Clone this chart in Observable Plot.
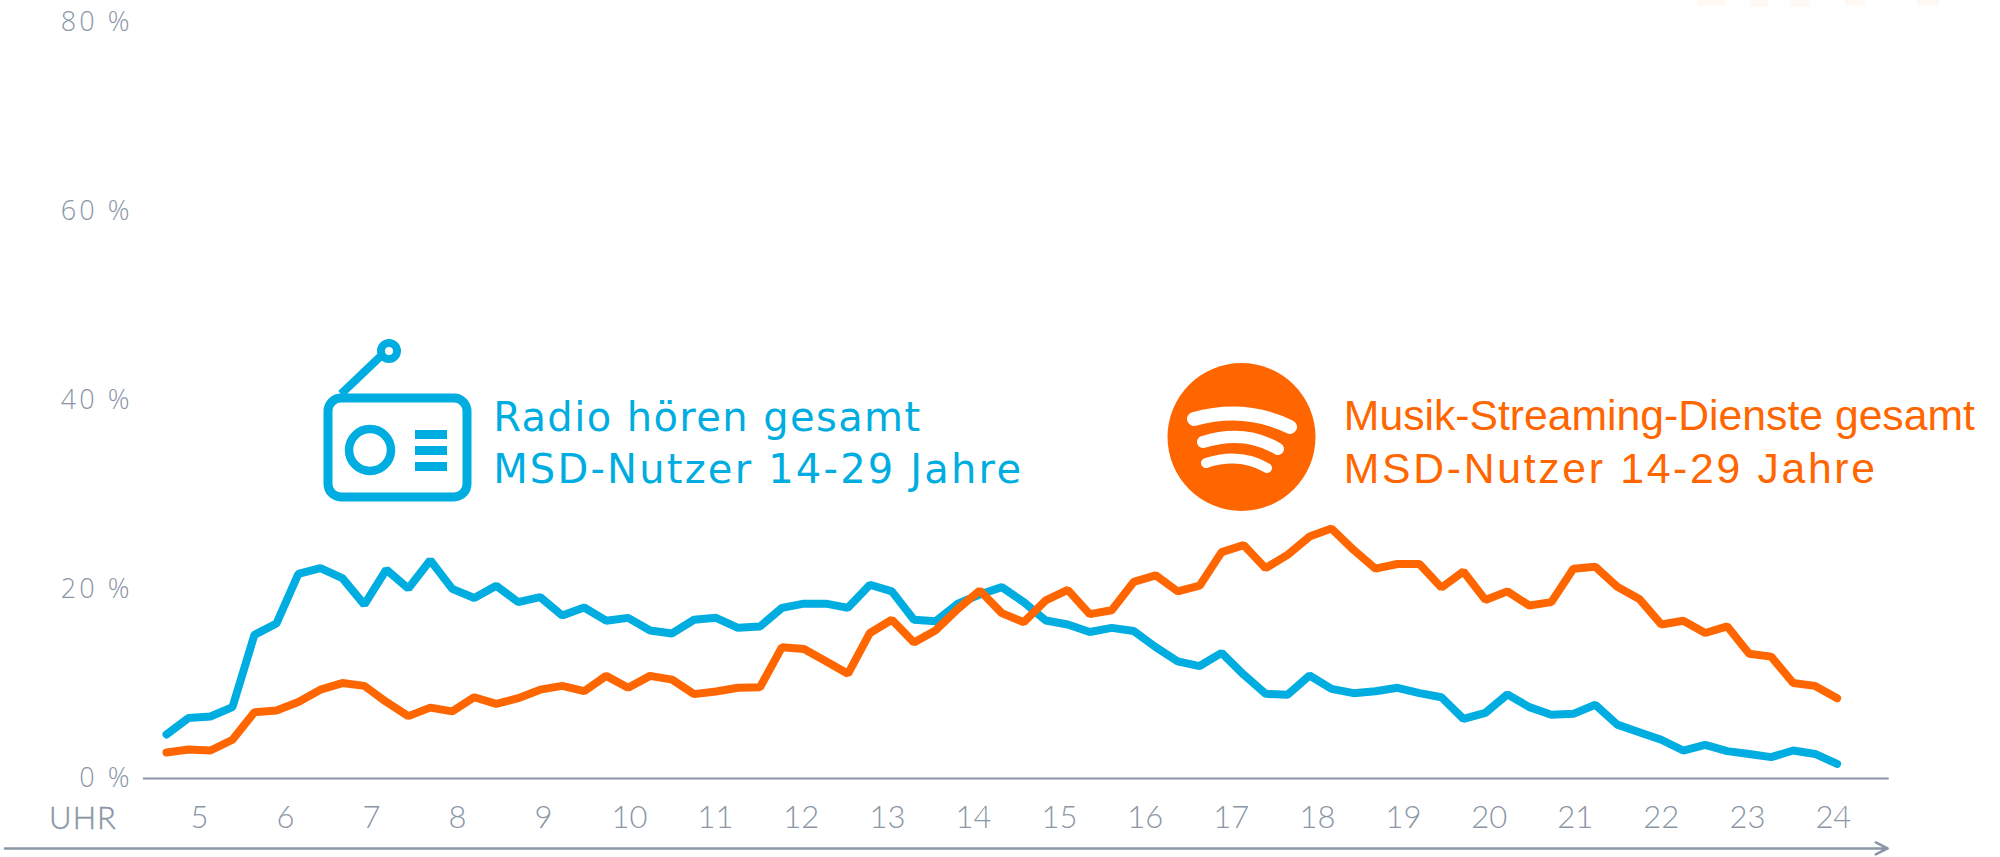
<!DOCTYPE html>
<html><head><meta charset="utf-8">
<script src="https://cdn.jsdelivr.net/npm/d3@7"></script>
<script src="https://cdn.jsdelivr.net/npm/@observablehq/plot@0.6"></script>
<style>
html,body{margin:0;padding:0;background:#fff;width:2000px;height:857px;overflow:hidden}
#wrap{position:relative;width:2000px;height:857px}
#wrap svg{position:absolute;left:0;top:0}
</style></head><body><div id="wrap"></div>
<script>
const radio = [4.66,6.4,6.56,7.55,15.2,16.4,21.66,22.26,21.2,18.4,22.1,20.1,23.1,20.07,19.1,20.4,18.66,19.2,17.25,18.1,16.7,17.0,15.66,15.35,16.8,17.0,15.94,16.08,18.06,18.5,18.5,18.06,20.5,19.8,16.8,16.65,18.5,19.47,20.25,18.66,16.72,16.3,15.5,15.94,15.6,13.9,12.4,11.9,13.3,11.0,8.96,8.85,10.9,9.49,9.03,9.24,9.6,9.03,8.6,6.3,6.95,8.9,7.55,6.74,6.84,7.8,5.7,4.9,4.1,2.96,3.56,2.9,2.6,2.26,2.96,2.6,1.55];
const streaming = [2.75,3.07,2.96,4.1,7.0,7.2,8.1,9.4,10.1,9.8,8.1,6.6,7.5,7.1,8.6,7.9,8.5,9.4,9.8,9.24,10.86,9.6,10.86,10.46,8.93,9.2,9.6,9.66,13.9,13.7,12.4,11.08,15.4,16.8,14.4,15.7,17.95,19.9,17.5,16.54,18.84,19.96,17.4,17.8,20.8,21.5,19.8,20.4,23.95,24.7,22.26,23.67,25.6,26.45,24.2,22.2,22.7,22.7,20.2,21.9,18.9,19.8,18.3,18.66,22.2,22.4,20.3,19.0,16.3,16.7,15.4,16.1,13.2,12.9,10.1,9.8,8.5];
const hourLabels = ["5","6","7","8","9","10","11","12","13","14","15","16","17","18","19","20","21","22","23","24"];
const hourSlots = [1.5,5.41,9.32,13.24,17.15,21.06,24.97,28.88,32.8,36.71,40.62,44.53,48.44,52.36,56.27,60.18,64.09,68,71.92,75.83];
const yTicks = [0,20,40,60,80];
const BLUE="#00ADE0", ORANGE="#FF6600", GREY="#8A96A5";

const toRows = a => a.map((v,i)=>({slot:i,value:v}));
const lato = {fontFamily:"Lato, sans-serif", fontWeight:300};

const chart = Plot.plot({
  width:2000, height:857,
  marginLeft:143, marginRight:113, marginTop:22, marginBottom:79,
  style:{background:"transparent",overflow:"visible"},
  x:{domain:[0,76],range:[166,1836.6],axis:null},
  y:{domain:[0,80],range:[778,22],axis:null},
  marks:[
    Plot.axisY({ticks:yTicks,tickSize:0,tickPadding:11,tickFormat:d=>d+" %",fontSize:27,fill:GREY,label:null,fontFamily:"Open Sans",fontWeight:300,stroke:GREY,strokeWidth:0.5}),
    Plot.axisX({ticks:hourSlots,tickSize:0,tickPadding:27,tickFormat:(d,i)=>hourLabels[i],fontSize:31,fill:GREY,label:null,...lato,stroke:GREY,strokeWidth:0.4}),
    Plot.ruleY([0],{x1:[-1.05],x2:[78.37],stroke:GREY,strokeWidth:2}),
    Plot.arrow([0],{x1:()=>-7.35,x2:()=>78.3,y1:()=>-7.4,y2:()=>-7.4,stroke:GREY,strokeWidth:2.5,headLength:8,headAngle:53}),
    Plot.text(["UHR"],{x:()=>-3.8,y:()=>-4.3,text:d=>d,fontSize:31,fill:GREY,...lato,stroke:GREY,strokeWidth:0.4}),
    Plot.line(toRows(radio),{x:"slot",y:"value",stroke:BLUE,strokeWidth:8,strokeLinecap:"round",strokeLinejoin:"miter"}),
    Plot.line(toRows(streaming),{x:"slot",y:"value",stroke:ORANGE,strokeWidth:8,strokeLinecap:"round",strokeLinejoin:"miter"}),
    Plot.text(["Radio hören gesamt"],{x:()=>14.86,y:()=>36.75,text:d=>d,textAnchor:"start",lineAnchor:"bottom",fontSize:40,fill:BLUE,fontFamily:"DejaVu Sans"}),
    Plot.text(["MSD-Nutzer 14-29 Jahre"],{x:()=>14.86,y:()=>31.3,text:d=>d,textAnchor:"start",lineAnchor:"bottom",fontSize:40,fill:BLUE,fontFamily:"DejaVu Sans"}),
    Plot.text(["Musik-Streaming-Dienste gesamt"],{x:()=>53.56,y:()=>36.9,text:d=>d,textAnchor:"start",lineAnchor:"bottom",fontSize:42.7,fill:ORANGE,fontFamily:"Liberation Sans"}),
    Plot.text(["MSD-Nutzer 14-29 Jahre"],{x:()=>53.56,y:()=>31.3,text:d=>d,textAnchor:"start",lineAnchor:"bottom",fontSize:42.7,fill:ORANGE,fontFamily:"Liberation Sans"})
  ]
});
chart.querySelectorAll('g[aria-label="y-axis tick label"] text').forEach(t=>t.setAttribute("letter-spacing",3));
chart.querySelectorAll("text").forEach(t=>{
  const fill=(t.closest("g[fill]")||t).getAttribute("fill")||"";
  const s=t.textContent;
  let px=null;
  if(s==="UHR") px=1;
  else if(s==="Radio hören gesamt") px=1.4;
  else if(s==="MSD-Nutzer 14-29 Jahre") px=fill===BLUE?2.2:2.7;
  if(px!==null) t.setAttribute("letter-spacing",px);
});
const wrap=document.getElementById("wrap");
wrap.appendChild(chart);
const ns="http://www.w3.org/2000/svg";
const deco=document.createElementNS(ns,"svg");
deco.setAttribute("width",2000);deco.setAttribute("height",857);
deco.innerHTML=`
<g fill="none" stroke="${BLUE}">
 <rect x="328" y="398" width="139" height="99" rx="13" stroke-width="9"/>
 <circle cx="370" cy="450" r="21" stroke-width="8.5"/>
 <path d="M341 394 L383 354" stroke-width="8"/>
 <circle cx="389" cy="351" r="8" stroke-width="8"/>
</g>
<g fill="${BLUE}">
 <rect x="415" y="430" width="32" height="9"/><rect x="415" y="446" width="32" height="9"/><rect x="415" y="462" width="32" height="9"/>
</g>
<circle cx="1241.5" cy="437" r="74" fill="${ORANGE}"/>
<g fill="none" stroke="#fff" stroke-linecap="round">
 <path d="M1194 419 Q1245 405 1290 427" stroke-width="14"/>
 <path d="M1203 442 Q1245 429 1278 449" stroke-width="12"/>
 <path d="M1206 463 Q1240 452 1267 468" stroke-width="10"/>
</g>
<g fill="#FFF8F3">
 <rect x="1697" y="0" width="28" height="6"/><rect x="1750" y="0" width="18" height="7"/><rect x="1790" y="0" width="20" height="7"/><rect x="1845" y="0" width="20" height="6"/><rect x="1917" y="0" width="22" height="6"/>
</g>`;
wrap.appendChild(deco);
</script></body></html>
